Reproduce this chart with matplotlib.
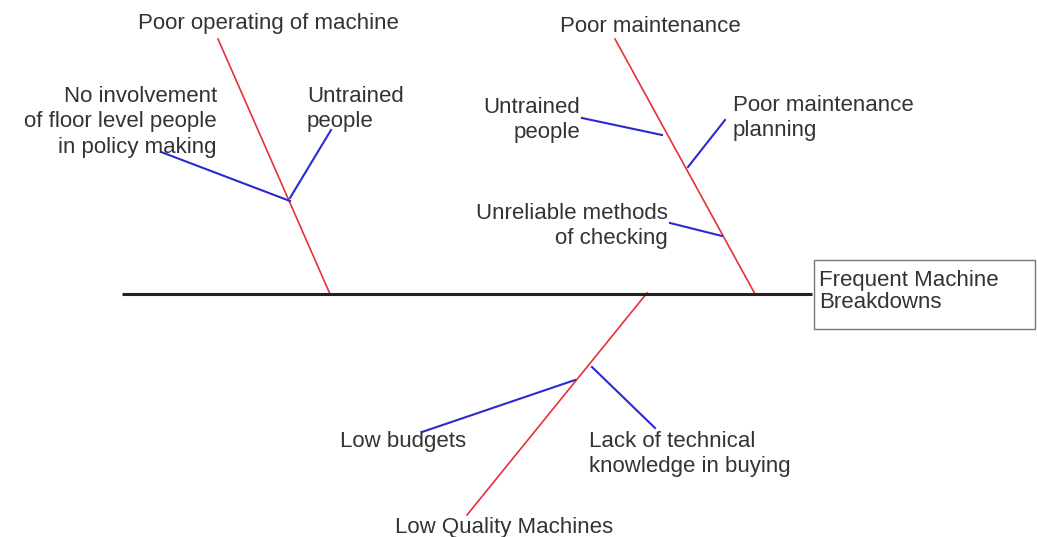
import matplotlib
matplotlib.use("Agg")
import matplotlib.pyplot as plt
from matplotlib.patches import Rectangle

plt.rcParams['font.family'] = ['Liberation Sans', 'DejaVu Sans']

W, H = 1037, 537

# Effect (head of the fish)
effect_label = "Frequent Machine\nBreakdowns"
spine_x = [122, 812]
spine_y = [294, 294]
box_xy = (814, 260)
box_wh = (221, 69)

# Main causes (red bones): start (on spine) -> end, label, label position
cause_labels = ["Poor operating of machine", "Poor maintenance", "Low Quality Machines"]
cause_x0 = [330, 755, 647]
cause_y0 = [294, 294, 293]
cause_x1 = [218, 615, 467]
cause_y1 = [39, 39, 515]
cause_label_x = [268, 650, 504]
cause_label_y = [23, 27, 528]

# Sub-causes (blue branches)
sub_labels = [
    "No involvement\nof floor level people\nin policy making",
    "Untrained\npeople",
    "Untrained\npeople",
    "Poor maintenance\nplanning",
    "Unreliable methods\nof checking",
    "Low budgets",
    "Lack of technical\nknowledge in buying",
]
sub_x0 = [290, 290, 662, 688, 722, 575, 592]
sub_y0 = [201, 198, 135, 167, 236, 380, 367]
sub_x1 = [161, 331, 582, 725, 670, 422, 655]
sub_y1 = [152, 130, 118, 120, 223, 432, 428]
sub_text_x = [217, 307, 580, 733, 668, 340, 589]
sub_text_y = [122, 109, 120, 118, 226, 442, 454]
sub_text_ha = ["right", "left", "right", "left", "right", "left", "left"]

RED = "#e8303a"
BLUE = "#2a2ad0"
TEXT = "#333333"
FS = 16

fig = plt.figure(figsize=(W / 100, H / 100), dpi=100)
ax = fig.add_axes([0, 0, 1, 1])
ax.set_xlim(0, W)
ax.set_ylim(H, 0)
ax.axis("off")

ax.plot(spine_x, spine_y, color="#222222", lw=2.2, solid_capstyle="butt", zorder=3)
ax.add_patch(Rectangle(box_xy, *box_wh, fill=False, edgecolor="#777777", lw=1.0))
ax.text(box_xy[0] + 5, box_xy[1] + box_wh[1] / 2 - 3, effect_label, ha="left", va="center",
        fontsize=FS, color=TEXT, linespacing=1.1)

for i in range(len(cause_labels)):
    ax.plot([cause_x0[i], cause_x1[i]], [cause_y0[i], cause_y1[i]], color=RED, lw=1.2, zorder=2)
    ax.text(cause_label_x[i], cause_label_y[i], cause_labels[i], ha="center", va="center",
            fontsize=FS, color=TEXT)

for i in range(len(sub_labels)):
    ax.plot([sub_x0[i], sub_x1[i]], [sub_y0[i], sub_y1[i]], color=BLUE, lw=1.5, zorder=2)
    ax.text(sub_text_x[i], sub_text_y[i], sub_labels[i], ha=sub_text_ha[i], va="center",
            fontsize=FS, color=TEXT, linespacing=1.25, multialignment=sub_text_ha[i])

fig.savefig("out.png", dpi=100, facecolor="white")
